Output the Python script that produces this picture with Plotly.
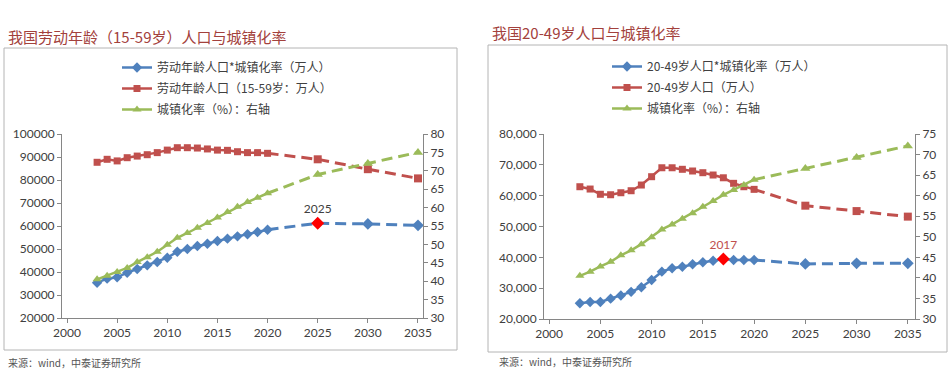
import plotly.graph_objects as go

# ---------------- data ----------------
years_hist = list(range(2003, 2021))
years_proj = [2025, 2030, 2035]

# Left panel: 劳动年龄(15-59岁)
L_blue_hist = [35350, 37100, 37700, 39700, 41300, 42900, 44350, 46200, 48800, 50000,
               51300, 52300, 53500, 54500, 55500, 56400, 57400, 58400]
L_blue_proj = [61200, 60900, 60300]
L_red_hist = [87700, 89000, 88300, 89700, 90400, 91000, 91900, 93000, 94050, 94050,
              93900, 93500, 93000, 92900, 92300, 91900, 91900, 91600]
L_red_proj = [89000, 84700, 80700]
L_green_hist = [40.5, 41.5, 42.5, 43.6, 45.2, 46.5, 48.0, 49.9, 51.8, 53.1,
                54.5, 55.8, 57.3, 58.8, 60.2, 61.5, 62.7, 63.9]
L_green_proj = [69.0, 72.0, 75.0]
L_peak_year = 2025

# Right panel: 20-49岁
R_blue_hist = [25100, 25500, 25500, 26600, 27600, 28800, 30300, 32650, 35350, 36450,
               36950, 37750, 38400, 38900, 39450, 39150, 39150, 39150]
R_blue_proj = [37850, 38050, 38050]
R_red_hist = [62900, 62150, 60450, 60300, 60950, 61600, 63450, 66150, 69050, 69050,
              68550, 68000, 67450, 66700, 65800, 64000, 62900, 62050]
R_red_proj = [56750, 55000, 53200]
R_green_hist = [40.5, 41.5, 42.8, 43.9, 45.5, 46.7, 48.2, 49.9, 51.8, 53.0,
                54.4, 55.7, 57.3, 58.7, 60.2, 61.4, 62.6, 63.9]
R_green_proj = [66.6, 69.3, 72.1]
R_peak_year = 2017

x_ticks = [2000, 2005, 2010, 2015, 2020, 2025, 2030, 2035]

L_names = ["劳动年龄人口*城镇化率（万人）", "劳动年龄人口（15-59岁：万人）", "城镇化率（%）：右轴"]
R_names = ["20-49岁人口*城镇化率（万人）", "20-49岁人口（万人）", "城镇化率（%）：右轴"]
L_title = "我国劳动年龄（15-59岁）人口与城镇化率"
R_title = "我国20-49岁人口与城镇化率"
source_text = "来源：wind，中泰证券研究所"

# ---------------- style ----------------
BLUE = "#4F81BD"
RED = "#C0504D"
GREEN = "#9BBB59"
AXIS = "#868686"
TXT = "#404040"
CJK = "Noto Sans CJK SC"
NUM = "Lato, Noto Sans CJK SC"
DASH = "11px,6px"

W, H = 952, 384
fig = go.Figure()


def add_panel(xa, ya, ya2, legend, names, blue_h, blue_p, red_h, red_p, green_h, green_p,
              peak_year, peak_color):
    series = [
        (names[0], blue_h, blue_p, BLUE, "diamond", 8, ya),
        (names[1], red_h, red_p, RED, "square", 7, ya),
        (names[2], green_h, green_p, GREEN, "triangle-up", 8, ya2),
    ]
    for i, (nm, h, p, col, sym, sz, yax) in enumerate(series):
        fig.add_trace(go.Scatter(
            x=years_hist, y=h, name=nm, mode="lines+markers",
            line=dict(color=col, width=2.5),
            marker=dict(symbol=sym, size=sz, color=col, opacity=1, line=dict(width=0)),
            xaxis=xa, yaxis=yax, legend=legend, legendgroup=legend + str(i),
        ))
        fig.add_trace(go.Scatter(
            x=[years_hist[-1]] + years_proj, y=[h[-1]] + p, mode="lines+markers",
            line=dict(color=col, width=3, dash=DASH),
            marker=dict(symbol=sym, size=[0] + [sz + 1] * len(p), color=col, opacity=1,
                        line=dict(width=0)),
            xaxis=xa, yaxis=yax, showlegend=False, legend=legend,
        ))
    all_years = years_hist + years_proj
    all_blue = blue_h + blue_p
    pv = all_blue[all_years.index(peak_year)]
    fig.add_trace(go.Scatter(
        x=[peak_year], y=[pv], mode="markers+text",
        marker=dict(symbol="diamond", size=10, color="#FF0000", opacity=1, line=dict(width=0)),
        text=[str(peak_year)], textposition="top center",
        textfont=dict(family=NUM, size=12, color=peak_color),
        xaxis=xa, yaxis=ya, showlegend=False,
    ))


add_panel("x", "y", "y2", "legend", L_names, L_blue_hist, L_blue_proj, L_red_hist,
          L_red_proj, L_green_hist, L_green_proj, L_peak_year, TXT)
add_panel("x2", "y3", "y4", "legend2", R_names, R_blue_hist, R_blue_proj, R_red_hist,
          R_red_proj, R_green_hist, R_green_proj, R_peak_year, RED)

axis_common = dict(showline=True, linecolor=AXIS, linewidth=1, showgrid=False, zeroline=False,
                   ticks="outside", tickcolor=AXIS, ticklen=4, automargin=False,
                   tickfont=dict(family=NUM, size=12, color=TXT))

fig.update_layout(
    template="none",
    width=W, height=H, margin=dict(l=0, r=0, t=0, b=0, pad=0, autoexpand=False),
    paper_bgcolor="white", plot_bgcolor="white",
    hovermode=False,
    xaxis=dict(domain=[62 / W, 423 / W], anchor="y", range=[1999.5, 2035.5],
               tickvals=x_ticks, **axis_common),
    yaxis=dict(domain=[66 / H, 250 / H], anchor="x", range=[20000, 100000], dtick=10000,
               tickformat="d", **axis_common),
    yaxis2=dict(overlaying="y", side="right", anchor="x", range=[30, 80], dtick=5,
                **axis_common),
    xaxis2=dict(domain=[544 / W, 915 / W], anchor="y3", range=[1999.5, 2035.7],
                tickvals=x_ticks, **axis_common),
    yaxis3=dict(domain=[65 / H, 250 / H], anchor="x2", range=[20000, 80000], dtick=10000,
                tickformat=",d", **axis_common),
    yaxis4=dict(overlaying="y3", side="right", anchor="x2", range=[30, 75], dtick=5,
                **axis_common),
    legend=dict(x=117 / W, y=1 - 53 / H, xanchor="left", yanchor="top",
                bgcolor="rgba(0,0,0,0)", font=dict(family=CJK, size=12, color=TXT),
                tracegroupgap=2, itemwidth=30),
    legend2=dict(x=607 / W, y=1 - 52 / H, xanchor="left", yanchor="top",
                 bgcolor="rgba(0,0,0,0)", font=dict(family=CJK, size=12, color=TXT),
                 tracegroupgap=2, itemwidth=30),
    shapes=[
        dict(type="rect", xref="paper", yref="paper", x0=4 / W, x1=457 / W,
             y0=1 - 350 / H, y1=1 - 48 / H, line=dict(color="#B4B4B4", width=1)),
        dict(type="rect", xref="paper", yref="paper", x0=488 / W, x1=947 / W,
             y0=1 - 352 / H, y1=1 - 45 / H, line=dict(color="#B4B4B4", width=1)),
    ],
    annotations=[
        dict(text=L_title, xref="paper", yref="paper", x=6 / W, y=1 - 37 / H,
             xanchor="left", yanchor="middle", showarrow=False,
             font=dict(family=CJK, size=15, color="#A3413C")),
        dict(text=R_title, xref="paper", yref="paper", x=490 / W, y=1 - 32 / H,
             xanchor="left", yanchor="middle", showarrow=False,
             font=dict(family=CJK, size=15, color="#A3413C")),
        dict(text=source_text, xref="paper", yref="paper", x=6 / W, y=1 - 362 / H,
             xanchor="left", yanchor="middle", showarrow=False,
             font=dict(family=CJK, size=10, color="#555555")),
        dict(text=source_text, xref="paper", yref="paper", x=497 / W, y=1 - 361 / H,
             xanchor="left", yanchor="middle", showarrow=False,
             font=dict(family=CJK, size=10, color="#555555")),
    ],
)

fig.write_html("out.html", config={"displayModeBar": False},
               post_script="document.body.style.margin='0px';")
